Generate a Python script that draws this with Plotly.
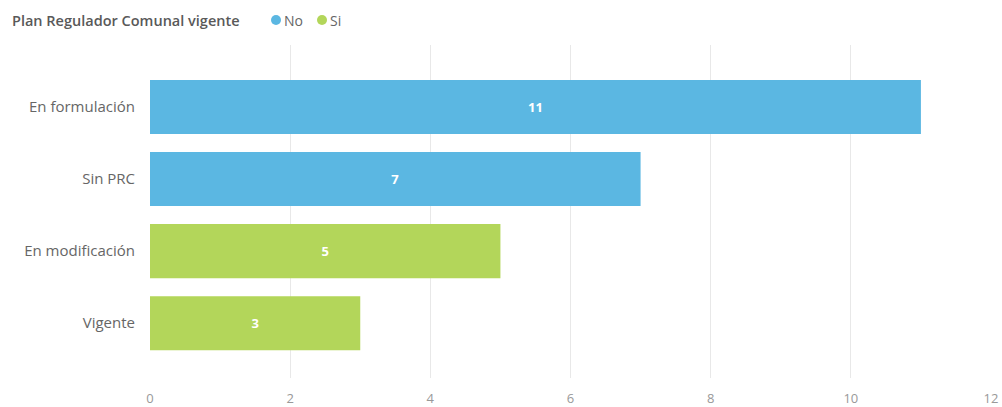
import plotly.graph_objects as go

categories = ["Vigente", "En modificación", "Sin PRC", "En formulación"]
values = [3, 5, 7, 11]
groups = ["Si", "Si", "No", "No"]
legend_title = "Plan Regulador Comunal vigente"
legend_names = ["No", "Si"]
x_ticks = [0, 2, 4, 6, 8, 10, 12]

colors = {"No": "#5BB7E2", "Si": "#B3D65A"}

fig = go.Figure()
for g in legend_names:
    xs = [v for v, gg in zip(values, groups) if gg == g]
    ys = [c for c, gg in zip(categories, groups) if gg == g]
    fig.add_trace(go.Bar(
        x=xs, y=ys, orientation="h", name=g,
        marker=dict(color=colors[g], line=dict(width=0)),
        text=[str(v) for v in xs], textposition="inside",
        insidetextanchor="middle",
        textfont=dict(color="white", size=13, family="Open Sans", weight="bold"),
        showlegend=False,
    ))

# Legend drawn with text annotations and circle shapes (paper coords)
W, H = 1002, 407
ml, mr, mt, mb = 150, 11, 45, 29
pw, ph = W - ml - mr, H - mt - mb

def px_x(p):
    return (p - ml) / pw

def px_y(p):
    return (H - mb - p) / ph

annotations = [dict(
    text=legend_title, xref="paper", yref="paper",
    x=px_x(10), y=px_y(20), xanchor="left", yanchor="middle", showarrow=False,
    font=dict(family="Open Sans", size=14.5, color="#595959", weight=600),
)]
shapes = []
item_x = [271, 317]
for name, cx in zip(legend_names, item_x):
    shapes.append(dict(
        type="circle", xref="paper", yref="paper",
        x0=px_x(cx), x1=px_x(cx + 10), y0=px_y(25), y1=px_y(15),
        fillcolor=colors[name], line=dict(width=0),
    ))
    annotations.append(dict(
        text=name, xref="paper", yref="paper",
        x=px_x(cx + 11), y=px_y(20), xanchor="left", yanchor="middle", showarrow=False,
        font=dict(family="Open Sans", size=14, color="#666666"),
    ))

fig.update_layout(
    width=W, height=H,
    margin=dict(l=ml, r=mr, t=mt, b=mb, autoexpand=False),
    paper_bgcolor="white", plot_bgcolor="white",
    bargap=0.25,
    showlegend=False,
    font=dict(family="Open Sans", color="#666666", size=14),
    annotations=annotations,
    shapes=shapes,
    xaxis=dict(
        range=[0, 12], tickvals=x_ticks, showgrid=True, gridcolor="#E8E8E8",
        zeroline=False, showline=False, ticks="outside", ticklen=8, tickcolor="white",
        tickfont=dict(color="#999999", size=13), automargin=False,
    ),
    yaxis=dict(
        categoryorder="array", categoryarray=categories,
        range=[-0.76, 3.86], showgrid=False, zeroline=False, showline=False,
        ticks="outside", ticklen=11, tickcolor="white",
        tickfont=dict(color="#666666", size=15), automargin=False,
    ),
)

fig.write_html(
    "out.html",
    config={"displayModeBar": False},
    post_script="document.body.style.margin='0';document.body.style.padding='0';",
)
